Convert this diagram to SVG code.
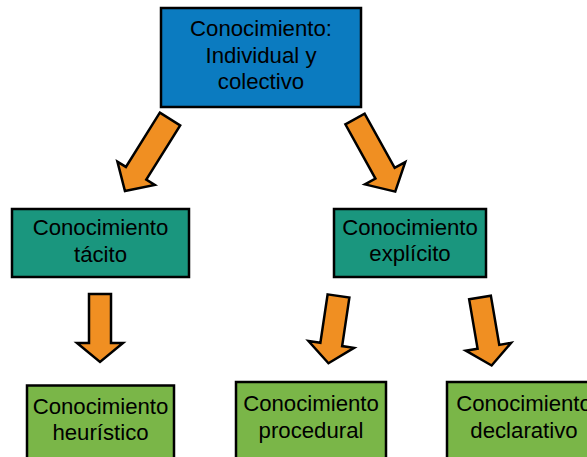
<svg xmlns="http://www.w3.org/2000/svg" width="587" height="457" viewBox="0 0 587 457">
<style>
.box{stroke:#000;stroke-width:2.5}
.blue{fill:#0b7bc0}
.teal{fill:#1a967e}
.green{fill:#7ab648}
.arrow{fill:#f08f22;stroke:#000;stroke-width:2.5;stroke-linejoin:miter}
text{font-family:"Liberation Sans",Arial,sans-serif;font-size:22.2px;fill:#000;text-anchor:middle}
</style>
<rect width="587" height="457" fill="#fff"/>
<g id="connectors">
<path class="arrow" transform="translate(170,119) rotate(32)" d="M-12,0 H12 V64 H22 L0,85 L-22,64 H-12 Z"/>
<path class="arrow" transform="translate(355,119) rotate(-29)" d="M-11,0 H11 V62 H23 L0,83 L-23,62 H-11 Z"/>
<path class="arrow" transform="translate(100,294)" d="M-11,0 H11 V49 H23 L0,68 L-23,49 H-11 Z"/>
<path class="arrow" transform="translate(338.5,296) rotate(8.5)" d="M-11,0 H11 V49 H23 L0,68 L-23,49 H-11 Z"/>
<path class="arrow" transform="translate(480,297.5) rotate(-9.7)" d="M-11,0 H11 V50 H23 L0,69 L-23,50 H-11 Z"/>
</g>
<g id="root">
<rect class="box blue" x="161" y="8" width="200" height="99"/>
<text x="261" y="35.5">Conocimiento:</text>
<text x="261" y="62.5">Individual y</text>
<text x="261" y="89">colectivo</text>
</g>
<g id="tacito">
<rect class="box teal" x="12" y="209" width="177" height="68"/>
<text x="100.5" y="235">Conocimiento</text>
<text x="100.5" y="261.5">tácito</text>
</g>
<g id="explicito">
<rect class="box teal" x="334" y="209" width="152" height="68"/>
<text x="410" y="234.5">Conocimiento</text>
<text x="410" y="261">explícito</text>
</g>
<g id="heuristico">
<rect class="box green" x="27" y="385.5" width="147" height="80"/>
<text x="100.5" y="413.5">Conocimiento</text>
<text x="100.5" y="440">heurístico</text>
</g>
<g id="procedural">
<rect class="box green" x="236" y="382" width="150" height="85"/>
<text x="311" y="411">Conocimiento</text>
<text x="311" y="437.5">procedural</text>
</g>
<g id="declarativo">
<rect class="box green" x="447" y="382" width="153" height="85"/>
<text x="524" y="411">Conocimiento</text>
<text x="524" y="437.5">declarativo</text>
</g>
</svg>
